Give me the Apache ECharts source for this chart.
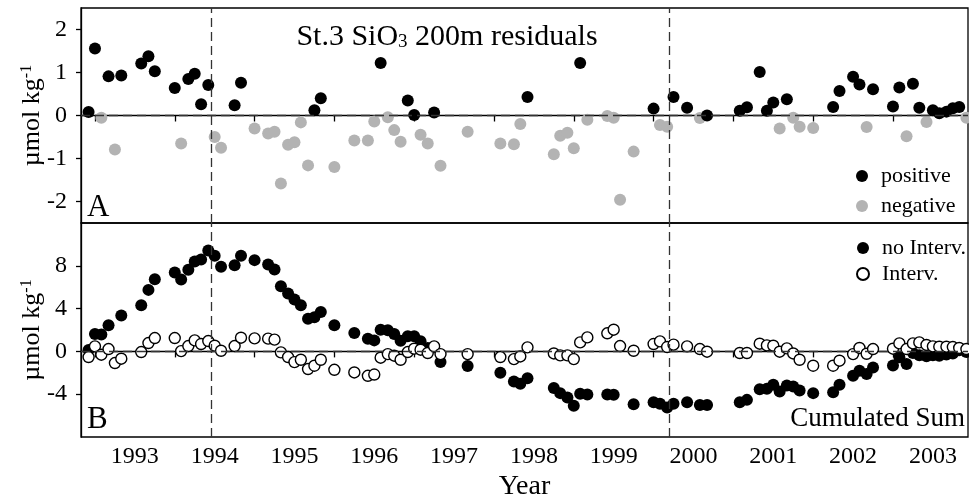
<!DOCTYPE html>
<html><head><meta charset="utf-8">
<script src="https://cdn.jsdelivr.net/npm/echarts@6/dist/echarts.min.js"></script>
<style>html,body{margin:0;padding:0;background:#fff}#c{width:969px;height:495px}</style>
</head><body><div id="c"></div>
<script>
// ---- data (decimal year, value) ----
const positive = [[1992.92,0.08],[1993.00,1.56],[1993.17,0.91],[1993.33,0.93],[1993.58,1.21],[1993.67,1.38],[1993.75,1.03],[1994.00,0.64],[1994.17,0.85],[1994.25,0.97],[1994.33,0.26],[1994.42,0.71],[1994.75,0.24],[1994.83,0.76],[1995.75,0.12],[1995.83,0.40],[1996.58,1.22],[1996.92,0.35],[1997.00,0.01],[1997.25,0.07],[1998.42,0.43],[1999.08,1.22],[2000.00,0.16],[2000.25,0.43],[2000.42,0.18],[2000.67,0.00],[2001.08,0.11],[2001.17,0.19],[2001.33,1.01],[2001.42,0.11],[2001.50,0.30],[2001.67,0.38],[2002.25,0.20],[2002.33,0.57],[2002.50,0.90],[2002.58,0.72],[2002.75,0.61],[2003.00,0.21],[2003.08,0.65],[2003.25,0.74],[2003.33,0.18],[2003.50,0.12],[2003.58,0.05],[2003.67,0.09],[2003.75,0.17],[2003.83,0.20]];
const negative = [[1993.08,-0.05],[1993.25,-0.79],[1994.08,-0.65],[1994.50,-0.50],[1994.58,-0.75],[1995.00,-0.30],[1995.17,-0.42],[1995.25,-0.38],[1995.33,-1.58],[1995.42,-0.68],[1995.50,-0.62],[1995.58,-0.16],[1995.67,-1.16],[1996.00,-1.20],[1996.25,-0.58],[1996.42,-0.58],[1996.50,-0.14],[1996.67,-0.04],[1996.75,-0.34],[1996.83,-0.61],[1997.08,-0.45],[1997.17,-0.65],[1997.33,-1.17],[1997.67,-0.38],[1998.08,-0.65],[1998.25,-0.67],[1998.33,-0.20],[1998.75,-0.90],[1998.83,-0.47],[1998.92,-0.40],[1999.00,-0.76],[1999.17,-0.10],[1999.42,-0.01],[1999.50,-0.05],[1999.58,-1.96],[1999.75,-0.84],[2000.08,-0.22],[2000.17,-0.26],[2000.58,-0.06],[2001.58,-0.30],[2001.75,-0.05],[2001.83,-0.26],[2002.00,-0.29],[2002.67,-0.27],[2003.17,-0.48],[2003.42,-0.15],[2003.92,-0.05]];
const noInterv = [[1992.92,0.13],[1993.00,1.63],[1993.08,1.57],[1993.17,2.44],[1993.33,3.35],[1993.58,4.31],[1993.67,5.75],[1993.75,6.75],[1994.00,7.38],[1994.08,6.72],[1994.17,7.63],[1994.25,8.41],[1994.33,8.59],[1994.42,9.44],[1994.50,8.94],[1994.58,7.91],[1994.75,8.06],[1994.83,8.94],[1995.00,8.53],[1995.17,8.13],[1995.25,7.66],[1995.33,6.09],[1995.42,5.41],[1995.50,4.85],[1995.58,4.31],[1995.67,3.06],[1995.75,3.19],[1995.83,3.69],[1996.00,2.44],[1996.25,1.72],[1996.42,1.19],[1996.50,1.03],[1996.58,2.03],[1996.67,1.97],[1996.75,1.63],[1996.83,1.00],[1996.92,1.41],[1997.00,1.41],[1997.08,0.94],[1997.17,0.32],[1997.25,0.41],[1997.33,-1.00],[1997.67,-1.37],[1998.08,-2.00],[1998.25,-2.81],[1998.33,-3.03],[1998.42,-2.50],[1998.75,-3.43],[1998.83,-3.90],[1998.92,-4.31],[1999.00,-5.09],[1999.08,-3.96],[1999.17,-4.03],[1999.42,-4.03],[1999.50,-4.06],[1999.75,-4.93],[2000.00,-4.75],[2000.08,-4.90],[2000.17,-5.25],[2000.25,-4.90],[2000.42,-4.75],[2000.58,-5.00],[2000.67,-5.00],[2001.08,-4.75],[2001.17,-4.53],[2001.33,-3.53],[2001.42,-3.50],[2001.50,-3.12],[2001.58,-3.75],[2001.67,-3.19],[2001.75,-3.28],[2001.83,-3.66],[2002.00,-3.90],[2002.25,-3.81],[2002.33,-3.12],[2002.50,-2.28],[2002.58,-1.81],[2002.67,-2.12],[2002.75,-1.50],[2003.00,-1.31],[2003.08,-0.55],[2003.17,-1.18],[2003.25,-0.15],[2003.33,-0.35],[2003.42,-0.45],[2003.50,-0.35],[2003.58,-0.40],[2003.67,-0.30],[2003.75,-0.20],[2003.83,0.10],[2003.92,-0.05]];
const interv = [[1992.92,-0.53],[1993.00,0.47],[1993.08,-0.31],[1993.17,0.22],[1993.25,-1.09],[1993.33,-0.68],[1993.58,-0.06],[1993.67,0.78],[1993.75,1.25],[1994.00,1.25],[1994.08,0.03],[1994.17,0.50],[1994.25,1.03],[1994.33,0.69],[1994.42,0.97],[1994.50,0.53],[1994.58,0.06],[1994.75,0.50],[1994.83,1.28],[1995.00,1.22],[1995.17,1.19],[1995.25,1.10],[1995.33,-0.09],[1995.42,-0.53],[1995.50,-1.00],[1995.58,-0.78],[1995.67,-1.65],[1995.75,-1.34],[1995.83,-0.78],[1996.00,-1.72],[1996.25,-1.97],[1996.42,-2.28],[1996.50,-2.16],[1996.58,-0.59],[1996.67,-0.25],[1996.75,-0.40],[1996.83,-0.78],[1996.92,-0.06],[1997.00,0.25],[1997.08,0.16],[1997.17,-0.15],[1997.25,0.47],[1997.33,-0.25],[1997.67,-0.25],[1998.08,-0.53],[1998.25,-0.72],[1998.33,-0.47],[1998.42,0.38],[1998.75,-0.19],[1998.83,-0.37],[1998.92,-0.37],[1999.00,-0.72],[1999.08,0.84],[1999.17,1.31],[1999.42,1.69],[1999.50,2.03],[1999.58,0.50],[1999.75,0.06],[2000.00,0.69],[2000.08,0.94],[2000.17,0.41],[2000.25,0.63],[2000.42,0.47],[2000.58,0.22],[2000.67,-0.03],[2001.08,-0.15],[2001.17,-0.15],[2001.33,0.72],[2001.42,0.56],[2001.50,0.53],[2001.58,-0.03],[2001.67,0.28],[2001.75,-0.19],[2001.83,-0.78],[2002.00,-1.34],[2002.25,-1.34],[2002.33,-0.87],[2002.50,-0.25],[2002.58,0.32],[2002.67,-0.22],[2002.75,0.22],[2003.00,0.25],[2003.08,0.75],[2003.17,0.22],[2003.25,0.75],[2003.33,0.84],[2003.42,0.60],[2003.50,0.47],[2003.58,0.44],[2003.67,0.44],[2003.75,0.41],[2003.83,0.32],[2003.92,0.22]];
const yearTicks = [1993,1994,1995,1996,1997,1998,1999,2000,2001,2002,2003];
const yearLabelPos = [1993.5,1994.5,1995.5,1996.5,1997.5,1998.5,1999.5,2000.5,2001.5,2002.5,2003.5];
const topTicks = [-2,-1,0,1,2];
const bottomTicks = [-4,0,4,8];
const eventLines = [1994.46, 2000.2];
const xRange = [1992.825, 2003.94];

const FONT = 'Liberation Serif';
const chart = echarts.init(document.getElementById('c'));

function xAxisCfg(grid, labels) {
  return {
    type: 'value', gridIndex: grid, min: xRange[0], max: xRange[1],
    axisLine: {show: true, lineStyle: {color: '#000', width: 1.3}},
    axisTick: {show: true, inside: false, length: 6, customValues: yearTicks, lineStyle: {color: '#000', width: 1.3}},
    axisLabel: labels ? {show: true, customValues: yearLabelPos, formatter: v => String(Math.floor(v)),
      color: '#000', fontFamily: FONT, fontSize: 24, margin: 8} : {show: false},
    splitLine: {show: false},
    name: labels ? 'Year' : '', nameLocation: 'middle', nameGap: 36, nameMoveOverlap: false,
    nameTextStyle: {color: '#000', fontFamily: FONT, fontSize: 28}
  };
}
function yAxisCfg(grid, min, max, ticks) {
  return {
    type: 'value', gridIndex: grid, min: min, max: max,
    axisLine: {show: true, lineStyle: {color: '#000', width: 1.3}},
    axisTick: {show: true, inside: false, length: 5, customValues: ticks, lineStyle: {color: '#000', width: 1.3}},
    axisLabel: {show: true, customValues: ticks, color: '#000', fontFamily: FONT, fontSize: 24, margin: 14},
    splitLine: {show: false},
    name: '{a|µmol kg}{s|-1}', nameLocation: 'middle', nameGap: 36, nameRotate: 90, nameMoveOverlap: false,
    nameTextStyle: {color: '#000', fontFamily: FONT, fontSize: 26,
      rich: {a: {fontFamily: FONT, fontSize: 26, color: '#000'}, s: {fontFamily: FONT, fontSize: 16, color: '#000', verticalAlign: 'top'}}}
  };
}
const refLine = (withZero) => ({
  silent: true, symbol: ['none', 'none'], label: {show: false},
  lineStyle: {color: '#333', type: [9, 5], width: 1.3},
  emphasis: {disabled: true},
  data: (withZero ? [{yAxis: 0}] : []).concat(eventLines.map(v => ({xAxis: v})))
});

chart.setOption({
  animation: false,
  backgroundColor: '#fff',
  grid: [
    {left: 81, right: 1, top: 8, height: 215, show: true, borderColor: '#000', borderWidth: 1.3, containLabel: false, outerBoundsMode: 'none'},
    {left: 81, right: 1, top: 223, height: 214, show: true, borderColor: '#000', borderWidth: 1.3, containLabel: false, outerBoundsMode: 'none'}
  ],
  xAxis: [xAxisCfg(0, false), xAxisCfg(1, true)],
  yAxis: [yAxisCfg(0, -2.5, 2.5, topTicks), yAxisCfg(1, -8, 12, bottomTicks)],
  legend: [
    {data: ['positive', 'negative'], orient: 'vertical', left: 851, top: 160, itemWidth: 12, itemHeight: 12, itemGap: 8,
      icon: 'circle', textStyle: {fontFamily: FONT, fontSize: 22, color: '#000', padding: [0, 0, 0, 8]}, selectedMode: false},
    {data: ['no Interv.', 'Interv.'], orient: 'vertical', left: 851, top: 232, itemWidth: 12, itemHeight: 12, itemGap: 4,
      icon: 'circle', textStyle: {fontFamily: FONT, fontSize: 22, color: '#000', padding: [0, 0, 0, 8]}, selectedMode: false}
  ],
  graphic: [
    {type: 'text', x: 447, y: 37, style: {text: '{a|St.3 SiO}{s|3}{a| 200m residuals}', align: 'center', verticalAlign: 'middle',
      rich: {a: {fontFamily: FONT, fontSize: 30, fill: '#000'}, s: {fontFamily: FONT, fontSize: 19, fill: '#000', verticalAlign: 'bottom', padding: [8, 0, 0, 0]}}}},
    {type: 'text', x: 87, y: 192, style: {text: 'A', fontFamily: FONT, fontSize: 31, fill: '#000'}},
    {type: 'text', x: 87, y: 404, style: {text: 'B', fontFamily: FONT, fontSize: 31, fill: '#000'}},
    {type: 'text', x: 965, y: 405, style: {text: 'Cumulated Sum', fontFamily: FONT, fontSize: 27, fill: '#000', align: 'right'}}
  ],
  series: [
    {type: 'scatter', xAxisIndex: 0, yAxisIndex: 0, data: [], z: 1, markLine: refLine(true)},
    {type: 'scatter', xAxisIndex: 1, yAxisIndex: 1, data: [], z: 1, markLine: refLine(true)},
    {name: 'negative', type: 'scatter', xAxisIndex: 0, yAxisIndex: 0, data: negative, symbol: 'circle', symbolSize: 12,
      itemStyle: {color: '#b3b3b3', opacity: 1}, z: 3},
    {name: 'positive', type: 'scatter', xAxisIndex: 0, yAxisIndex: 0, data: positive, symbol: 'circle', symbolSize: 12,
      itemStyle: {color: '#000', opacity: 1}, z: 4},
    {name: 'no Interv.', type: 'scatter', xAxisIndex: 1, yAxisIndex: 1, data: noInterv, symbol: 'circle', symbolSize: 12,
      itemStyle: {color: '#000', opacity: 1}, z: 3},
    {name: 'Interv.', type: 'scatter', xAxisIndex: 1, yAxisIndex: 1, data: interv, symbol: 'circle', symbolSize: 11,
      itemStyle: {color: '#fff', borderColor: '#000', borderWidth: 1.4, opacity: 1}, z: 4}
  ]
});
</script></body></html>
